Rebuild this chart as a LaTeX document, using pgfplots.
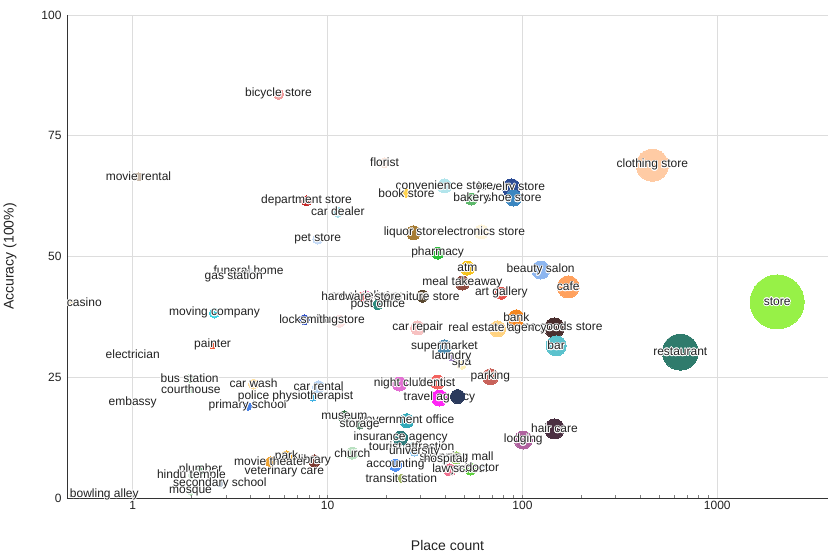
\documentclass[border=0pt]{standalone}
\usepackage{fontspec}
\setmainfont{Liberation Sans}
\usepackage{pgfplots}
\usepackage{contour}
\contourlength{0.7pt}
\contournumber{16}
\pgfplotsset{compat=1.18}
\definecolor{txt}{HTML}{222222}
\definecolor{gridc}{HTML}{DDDDDD}
\definecolor{axc}{HTML}{333333}
\begin{document}
\begin{tikzpicture}
\useasboundingbox (0,0) rectangle (831pt,554pt);
\begin{axis}[
  at={(67pt,56pt)}, anchor=south west,
  scale only axis, width=761pt, height=483pt,
  xmode=log, xmin=0.46, xmax=3700, ymin=0, ymax=100,
  xtick={1,10,100,1000}, xticklabels={1,10,100,1000},
  ytick={0,25,50,75,100},
  minor xtick={},
  grid=major, major grid style={gridc, line width=0.8pt},
  axis x line*=bottom, axis y line*=left,
  axis line style={axc, line width=0.9pt},
  major tick length=0pt,
  tick label style={font=\fontsize{12}{14}\selectfont, text=txt},
  yticklabel style={xshift=-2pt},
  /pgf/number format/assume math mode=true,
  xlabel={Place count}, ylabel={Accuracy (100\%)},
  label style={font=\fontsize{14}{16}\selectfont, text=txt},
  xlabel style={at={(axis description cs:0.5,-0.099)}, anchor=center},
  ylabel style={at={(axis description cs:-0.075,0.5)}, anchor=center},
  clip=false,
]
\addplot[only marks, mark=*,
  nodes near coords={\contour{white}{\lab}},
  every node near coord/.style={anchor=center, inner sep=0pt, xshift=\dx pt,
     font=\fontsize{12}{14}\selectfont, text=txt},
  scatter,
  visualization depends on={\thisrow{r}\as\rad},
  visualization depends on={value \thisrow{col}\as\hexcol},
  visualization depends on={value \thisrow{lab}\as\lab},
  visualization depends on={\thisrow{dx}\as\dx},
  scatter/@pre marker code/.code={%
    \edef\tmpdef{\noexpand\definecolor{bubc}{HTML}{\hexcol}}\tmpdef
    \scope[mark size=\rad pt, fill=bubc, draw=bubc, line width=0pt]},
  scatter/@post marker code/.append code={\endscope},
] table[x=x, y=y, col sep=comma] {
x,y,r,col,lab,dx
2030,40.6,27,97F147,store,0
646,30.2,18,2F7B6C,restaurant,0
464,68.9,16,FFCBA4,clothing store,0
172,43.7,11,FFA15E,cafe,0
146,35.2,10,4A2E2E,home goods store,0
149,31.5,10,5BC2CD,bar,0
146,14.3,10,4B3042,hair care,0
124,47.2,9,8DB6F0,beauty salon,0
101,12.0,9,B0629F,lodging,0
87.8,64.2,9,2C4C95,jewelry store,0
90,62.1,8,3A86C0,shoe store,0
93,37.3,8,F5861F,bank,0
74.5,35.0,8,FFD27F,real estate agency,0
68.5,25.1,8,C8625A,parking,0
37.5,20.7,8,FF25F5,travel agency,0
39.8,64.6,7,B3E5EC,convenience store,0
27.6,54.9,7,A67C35,liquor store,0
61.6,55.1,7,FFF6DC,electronics store,0
52.2,47.6,7,F6C21A,atm,0
49.2,44.5,7,8E4A3F,meal takeaway,0
29,35.2,7,F7C1C1,car repair,0
39.8,31.3,7,4D8BAE,supermarket,0
23.4,23.6,7,E36FD3,night club,0
36.7,24.0,7,F2635F,dentist,0
46.5,21.0,7,2B3A5C,,0
25.5,16.0,7,32AAB9,government office,0
23.7,12.4,7,2B7A7A,insurance agency,0
54.7,61.9,6,5CB86A,bakery,0
36.7,50.7,6,2DBE3A,pharmacy,0
78,42.4,6,E8524A,art gallery,0
30.7,41.8,6,5A4830,furniture store,0
15.8,41.6,6,FF7FBF,meal delivery,0
11.5,36.6,6,FDE3E3,drugstore,0
9.0,23.0,6,B9D5F5,car rental,0
12.2,16.8,6,2E6B40,museum,0
13.4,9.3,6,B9E1C1,church,0
45.9,8.3,6,8ECB50,shopping mall,0
22.3,6.8,6,4F8FF2,accounting,0
42.3,5.8,6,F0708F,lawyer,0
54.1,6.0,6,5ED23F,school,0
6.16,8.5,6,F6B030,park,0
8.57,7.7,6,7B3A31,library,0
5.6,83.6,5,F19C9C,bicycle store,0
19.6,69.4,5,FCE8DF,florist,0
7.8,61.5,5,C62828,department store,0
11.3,59.2,5,A6DDE8,car dealer,0
8.9,53.6,5,C5DBF7,pet store,0
18.1,40.0,5,2E8B7E,post office,0
7.6,36.9,5,3253C8,locksmith,0
48.7,27.7,5,FFF0B3,spa,0
4.17,23.6,5,FFE1A3,car wash,0
2.63,38.3,5,3ED3E3,moving company,0
5.1,7.5,5,EEA231,movie theater,0
1.07,66.5,4,C8B8A8,movie rental,0
25.4,63.1,4,FFD34E,book store,0
14.9,41.8,4,E53935,hardware store,0
43.3,29.2,4,A487C4,laundry,0
1.96,24.8,4,A3D9AB,bus station,0
3.89,19.0,4,4A82E6,primary school,0
8.4,20.9,4,3FB0E2,physiotherapist,0
2.57,31.7,4,F05C3C,painter,0
3.93,47.0,4,EEF2F8,funeral home,0
14.6,15.1,4,5C8C72,storage,0
27.0,10.6,4,C6ECF2,tourist attraction,0
27.9,9.5,4,80C0F0,university,0
39.8,7.9,4,DDEEEE,hospital,0
23.9,4.1,4,A2B465,transit station,0
62.3,6.4,4,DDE6EF,doctor,0
2.23,5.8,4,2FA350,plumber,0
1.99,22.4,3,B5E0BA,courthouse,0
4.17,20.9,3,C8DEF5,police,0
1.0,29.6,3,EEEEEE,electrician,0
1.0,19.7,3,E5F2E8,embassy,0
0.49,40.5,3,F0E0C0,casino,12
3.3,45.8,3,AAB0B8,gas station,0
6.0,5.4,3,E8E8E8,veterinary care,0
2.0,4.7,3,D8EEDC,hindu temple,0
2.8,3.0,3,C0CCD8,secondary school,0
1.98,1.2,3,BDE5C3,mosque,0
0.49,0.7,3,F2F2E6,bowling alley,32
};
\end{axis}
\end{tikzpicture}
\end{document}
